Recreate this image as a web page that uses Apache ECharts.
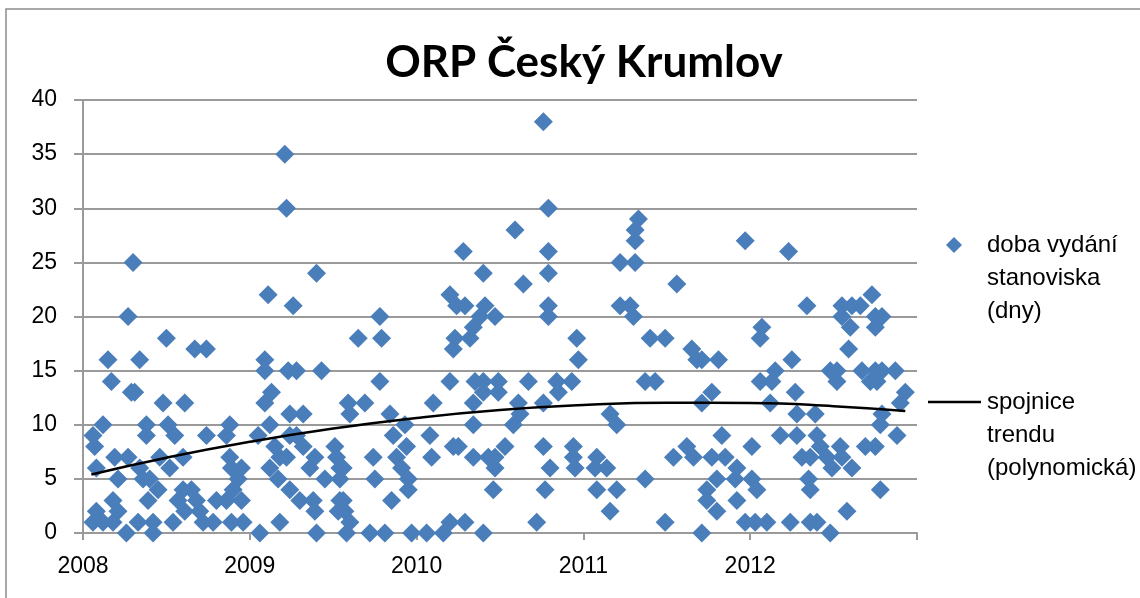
<!DOCTYPE html>
<html>
<head>
    <meta charset="utf-8">
    <title>ORP Český Krumlov</title>
    <script type="text/javascript" src="https://cdn.jsdelivr.net/npm/echarts@6/dist/echarts.min.js"></script>
    <style>
        html, body { margin: 0; padding: 0; background: #fff; }
    </style>
</head>
<body>
<div id="main" style="width: 1140px;height:598px;"></div>
<script>
    // datum podání (desetinný rok) a doba vydání stanoviska (dny), podle roků
    var dates2008 = [2008.06,2008.06,2008.07,2008.08,2008.08,2008.12,2008.12,2008.15,2008.17,2008.18,2008.18,2008.19,2008.21,2008.21,2008.26,2008.27,2008.27,2008.29,2008.30,2008.31,2008.33,2008.34,2008.34,2008.36,2008.38,2008.38,2008.39,2008.40,2008.42,2008.42,2008.45,2008.46,2008.48,2008.50,2008.51,2008.52,2008.54,2008.55,2008.57,2008.60,2008.60,2008.61,2008.61,2008.65,2008.67,2008.68,2008.70,2008.72,2008.74,2008.74,2008.78,2008.80,2008.86,2008.86,2008.88,2008.88,2008.89,2008.89,2008.90,2008.93,2008.95,2008.95,2008.96];
    var days2008 = [9,1,8,6,2,10,1,16,14,3,1,7,5,2,0,20,7,13,25,13,1,16,6,5,10,9,3,5,1,0,4,7,12,18,10,6,1,9,3,7,4,12,2,4,17,3,2,1,17,9,1,3,9,3,10,7,6,1,4,5,6,3,1];

    var dates2009 = [2009.05,2009.06,2009.09,2009.09,2009.09,2009.11,2009.12,2009.12,2009.13,2009.15,2009.17,2009.18,2009.18,2009.21,2009.22,2009.22,2009.23,2009.24,2009.24,2009.24,2009.26,2009.28,2009.28,2009.30,2009.32,2009.32,2009.36,2009.38,2009.39,2009.39,2009.40,2009.40,2009.43,2009.45,2009.51,2009.52,2009.53,2009.54,2009.54,2009.54,2009.56,2009.56,2009.57,2009.58,2009.59,2009.60,2009.60,2009.65,2009.69,2009.72,2009.74,2009.75,2009.78,2009.78,2009.79,2009.81,2009.84,2009.85,2009.86,2009.88,2009.91,2009.93,2009.94,2009.95,2009.95,2009.97];
    var days2009 = [9,0,16,15,12,22,10,6,13,8,5,7,1,35,30,7,15,11,9,4,21,15,9,3,11,8,6,3,7,2,24,0,15,5,8,7,2,6,5,3,6,3,2,0,12,11,1,18,12,0,7,5,20,14,18,0,11,3,9,7,6,10,8,5,4,0];

    var dates2010 = [2010.06,2010.08,2010.09,2010.10,2010.16,2010.20,2010.20,2010.20,2010.22,2010.22,2010.23,2010.24,2010.25,2010.28,2010.29,2010.29,2010.32,2010.34,2010.34,2010.34,2010.34,2010.35,2010.38,2010.40,2010.40,2010.40,2010.40,2010.41,2010.43,2010.46,2010.47,2010.47,2010.47,2010.49,2010.49,2010.53,2010.58,2010.59,2010.61,2010.62,2010.64,2010.67,2010.72,2010.76,2010.76,2010.76,2010.77,2010.79,2010.79,2010.79,2010.79,2010.79,2010.80,2010.84,2010.85,2010.93,2010.94,2010.94,2010.95,2010.96,2010.97];
    var days2010 = [0,9,7,12,0,22,14,1,17,8,18,21,8,26,21,1,18,19,12,10,7,14,20,24,13,14,0,21,7,4,20,7,6,14,13,8,10,28,12,11,23,14,1,38,12,8,4,30,26,24,21,20,6,14,13,14,8,7,6,18,16];

    var dates2011 = [2011.07,2011.08,2011.08,2011.14,2011.16,2011.16,2011.20,2011.20,2011.22,2011.22,2011.28,2011.30,2011.31,2011.31,2011.31,2011.33,2011.37,2011.37,2011.40,2011.43,2011.49,2011.49,2011.54,2011.56,2011.62,2011.65,2011.66,2011.68,2011.71,2011.71,2011.71,2011.74,2011.74,2011.77,2011.77,2011.80,2011.80,2011.81,2011.83,2011.85,2011.91,2011.92,2011.92,2011.97,2011.97];
    var days2011 = [6,7,4,6,11,2,10,4,25,21,21,20,28,27,25,29,14,5,18,14,18,1,7,23,8,17,7,16,16,12,0,4,3,13,7,5,2,16,9,7,5,6,3,27,1];

    var dates2012 = [2012.01,2012.01,2012.03,2012.04,2012.06,2012.06,2012.07,2012.10,2012.12,2012.13,2012.15,2012.18,2012.23,2012.24,2012.25,2012.27,2012.28,2012.28,2012.31,2012.34,2012.35,2012.36,2012.36,2012.36,2012.39,2012.40,2012.40,2012.42,2012.46,2012.48,2012.48,2012.49,2012.52,2012.52,2012.54,2012.55,2012.55,2012.55,2012.58,2012.59,2012.60,2012.61,2012.61,2012.66,2012.67,2012.69,2012.72,2012.73,2012.75,2012.75,2012.75,2012.75,2012.76,2012.78,2012.78,2012.79,2012.79,2012.79,2012.87,2012.88,2012.90,2012.93];
    var days2012 = [8,5,1,4,18,14,19,1,12,14,15,9,26,1,16,13,11,9,7,21,5,7,4,1,11,9,1,8,7,15,0,6,15,14,8,21,20,7,2,17,19,21,6,21,15,8,14,22,20,19,15,8,14,10,4,20,15,11,15,9,12,13];

    // spojnice trendu
    var trendX = [2008.05, 2008.5, 2009, 2009.5, 2010, 2010.5, 2011, 2011.5, 2012, 2012.5, 2012.93];
    var trendY = [5.41, 6.96, 8.43, 9.66, 10.63, 11.36, 11.82, 12.04, 12.01, 11.72, 11.27];

    var yTicks = [0, 5, 10, 15, 20, 25, 30, 35, 40];

    var chart = echarts.init(document.getElementById('main'));

    var pairs = [[dates2008, days2008], [dates2009, days2009], [dates2010, days2010],
                 [dates2011, days2011], [dates2012, days2012]];
    var points = [];
    pairs.forEach(function (p) {
        for (var i = 0; i < p[0].length; i++) {
            points.push([p[0][i], p[1][i]]);
        }
    });
    var trend = [];
    for (var i = 0; i < trendX.length; i++) {
        trend.push([trendX[i], trendY[i]]);
    }

    var gridColor = '#9a9a9a';
    var font = "'Liberation Sans', Arial, sans-serif";

    var option = {
        backgroundColor: '#fff',
        animation: false,
        title: {
            text: 'ORP Český Krumlov',
            left: 579,
            top: 36,
            textAlign: 'center',
            textStyle: {
                color: '#000',
                fontSize: 44,
                fontWeight: 'bold',
                fontFamily: "Lato, 'Liberation Sans', sans-serif"
            }
        },
        grid: {
            left: 83,
            right: 223,
            top: 100,
            bottom: 65
        },
        xAxis: {
            type: 'value',
            min: 2008,
            max: 2013,
            interval: 1,
            axisLine: { show: true, lineStyle: { color: gridColor, width: 2 } },
            axisTick: { show: true, length: 7, lineStyle: { color: gridColor, width: 2 } },
            splitLine: { show: false },
            axisLabel: {
                margin: 22,
                color: '#000',
                fontSize: 23,
                fontFamily: font,
                formatter: function (v) { return v >= 2013 ? '' : String(v); }
            }
        },
        yAxis: {
            type: 'value',
            min: yTicks[0],
            max: yTicks[yTicks.length - 1],
            interval: yTicks[1] - yTicks[0],
            axisLine: { show: true, lineStyle: { color: gridColor, width: 2 } },
            axisTick: { show: true, length: 9, lineStyle: { color: gridColor, width: 2 } },
            splitLine: { show: true, lineStyle: { color: gridColor, width: 2 } },
            axisLabel: {
                margin: 26,
                color: '#000',
                fontSize: 23,
                fontFamily: font
            }
        },
        graphic: [
            {
                type: 'rect',
                shape: { x: 6, y: 9, width: 1200, height: 700 },
                style: { fill: 'none', stroke: '#8c8c8c', lineWidth: 1.5 },
                silent: true
            },
            {
                type: 'polygon',
                shape: { points: [[954, 237], [962, 245], [954, 253], [946, 245]] },
                style: { fill: '#4a7ebb' }
            },
            {
                type: 'text',
                left: 987,
                top: 229,
                style: {
                    text: 'doba vydání\nstanoviska\n(dny)',
                    fill: '#000',
                    font: '24px ' + font,
                    lineHeight: 33
                }
            },
            {
                type: 'line',
                shape: { x1: 928, y1: 402, x2: 981, y2: 402 },
                style: { stroke: '#000', lineWidth: 2.5 }
            },
            {
                type: 'text',
                left: 987,
                top: 386,
                style: {
                    text: 'spojnice\ntrendu\n(polynomická)',
                    fill: '#000',
                    font: '24px ' + font,
                    lineHeight: 33
                }
            }
        ],
        series: [
            {
                name: 'doba vydání stanoviska (dny)',
                type: 'scatter',
                symbol: 'diamond',
                symbolSize: 19,
                itemStyle: { color: '#4a7ebb', opacity: 1 },
                data: points
            },
            {
                name: 'spojnice trendu (polynomická)',
                type: 'line',
                smooth: true,
                showSymbol: false,
                symbol: 'none',
                lineStyle: { color: '#000', width: 2.5 },
                data: trend,
                z: 5
            }
        ]
    };
    chart.setOption(option);
</script>
</body>
</html>
